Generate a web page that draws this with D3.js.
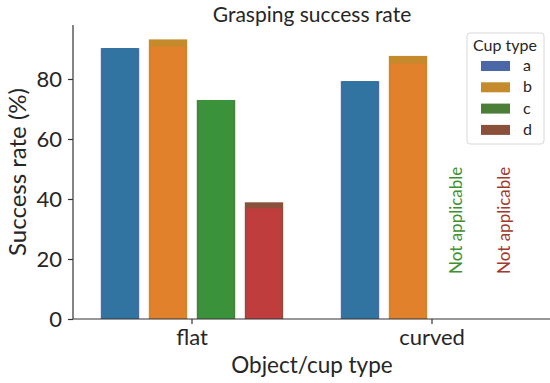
<!DOCTYPE html>
<html>
<head>
<meta charset="utf-8">
<script src="https://cdn.jsdelivr.net/npm/d3@7"></script>
<style>
  body { margin: 0; background: #fff; }
  svg text { font-family: "Lato", "Open Sans", sans-serif; fill: #262626; }
</style>
</head>
<body>
<svg width="550" height="383"></svg>
<script>
// Chart data
const objectTypes = ["flat", "curved"];
const cupTypes = ["a", "b", "c", "d"];
// success rate (%) per cup type, null = not applicable
const successRate = {
    flat:   [90.3, 90.8, 73.0, 36.9],
    curved: [79.3, 85.2, null, null]
};
// upper value drawn behind (legend colour)
const upperRate = {
    flat:   [90.3, 93.2, 73.0, 38.9],
    curved: [79.3, 87.7, null, null]
};
const yTicks = [0, 20, 40, 60, 80];

const barColors = ["#3274a1", "#e1812c", "#3a923a", "#c03d3e"];
const legendColors = ["#4a68a8", "#c48a2c", "#4b7f37", "#8b5039"];
const naColors = { c: "#3f9030", d: "#a03a30" };

const svg = d3.select("svg");
const margin = { top: 25, right: 0, bottom: 64, left: 73 };
const svgWidth = 550, svgHeight = 383;

const x = d3.scaleBand()
    .domain(objectTypes)
    .range([72, 552])
    .padding(0);

const hueX = d3.scaleBand()
    .domain(cupTypes)
    .range([-x.bandwidth() * 0.4, x.bandwidth() * 0.4])
    .paddingInner(0.2)
    .paddingOuter(0.1);

const y = d3.scaleLinear()
    .domain([0, 98])
    .range([svgHeight - margin.bottom, margin.top]);

// bars
const barGroup = svg.append("g").attr("class", "bars");
const rows = [];
objectTypes.forEach(obj => {
    cupTypes.forEach((cup, i) => {
        rows.push({ obj, cup, i, value: successRate[obj][i], upper: upperRate[obj][i] });
    });
});

const barX = d => x(d.obj) + x.bandwidth() / 2 + hueX(d.cup);

barGroup.selectAll(".bar-back")
    .data(rows.filter(d => d.value !== null))
    .join("rect")
    .attr("class", "bar-back")
    .attr("x", barX)
    .attr("width", hueX.bandwidth())
    .attr("y", d => y(d.upper))
    .attr("height", d => y(0) - y(d.upper))
    .attr("fill", d => legendColors[d.i]);

barGroup.selectAll(".bar")
    .data(rows.filter(d => d.value !== null))
    .join("rect")
    .attr("class", "bar")
    .attr("x", d => barX(d) + 1.5)
    .attr("width", hueX.bandwidth() - 3)
    .attr("y", d => y(d.value))
    .attr("height", d => y(0) - y(d.value))
    .attr("fill", d => barColors[d.i]);

// "Not applicable" labels
barGroup.selectAll(".na")
    .data(rows.filter(d => d.value === null))
    .join("text")
    .attr("class", "na")
    .attr("transform", d => `translate(${barX(d) + hueX.bandwidth() / 2 + 6}, ${y(15)}) rotate(-90)`)
    .attr("font-size", 17)
    .style("fill", d => naColors[d.cup])
    .text("Not applicable");

// y axis
const yAxis = svg.append("g")
    .attr("transform", `translate(${margin.left}, 0)`)
    .call(d3.axisLeft(y).tickValues(yTicks).tickSize(5).tickPadding(6));
yAxis.select(".domain").attr("stroke", "#333").attr("stroke-width", 1.2).attr("d", `M0,${y(98)}V${y(0)}`);
yAxis.selectAll(".tick line").attr("stroke", "#333").attr("stroke-width", 1.2);
yAxis.selectAll(".tick text").attr("font-size", 22).attr("font-family", "Lato").attr("fill", "#262626");

// x axis
const xAxis = svg.append("g")
    .attr("transform", `translate(0, ${y(0)})`)
    .call(d3.axisBottom(x).tickSize(5).tickPadding(5));
xAxis.select(".domain").attr("stroke", "#333").attr("stroke-width", 1.2).attr("d", `M${margin.left},0H${svgWidth}`);
xAxis.selectAll(".tick line").attr("stroke", "#333").attr("stroke-width", 1.2);
xAxis.selectAll(".tick text").attr("font-size", 22).attr("font-family", "Lato").attr("fill", "#262626");

// titles
svg.append("text")
    .attr("x", 312).attr("y", 22)
    .attr("text-anchor", "middle")
    .attr("font-size", 21)
    .text("Grasping success rate");

svg.append("text")
    .attr("x", 312).attr("y", 373)
    .attr("text-anchor", "middle")
    .attr("font-size", 22.5)
    .text("Object/cup type");

svg.append("text")
    .attr("transform", `translate(26, ${(y(0) + y(98)) / 2}) rotate(-90)`)
    .attr("text-anchor", "middle")
    .attr("font-size", 24)
    .text("Success rate (%)");

// legend
const legend = svg.append("g").attr("transform", "translate(467, 33)");
legend.append("rect")
    .attr("width", 77).attr("height", 111)
    .attr("rx", 3)
    .attr("fill", "#fff")
    .attr("stroke", "#d8d8d8");
legend.append("text")
    .attr("x", 6).attr("y", 18)
    .attr("font-size", 16)
    .text("Cup type");
const items = legend.selectAll(".item")
    .data(cupTypes)
    .join("g")
    .attr("class", "item")
    .attr("transform", (d, i) => `translate(14, ${28 + i * 21.3})`);
items.append("rect")
    .attr("width", 29).attr("height", 10)
    .attr("fill", (d, i) => legendColors[i]);
items.append("text")
    .attr("x", 42).attr("y", 10)
    .attr("font-size", 16)
    .text(d => d);
</script>
</body>
</html>
